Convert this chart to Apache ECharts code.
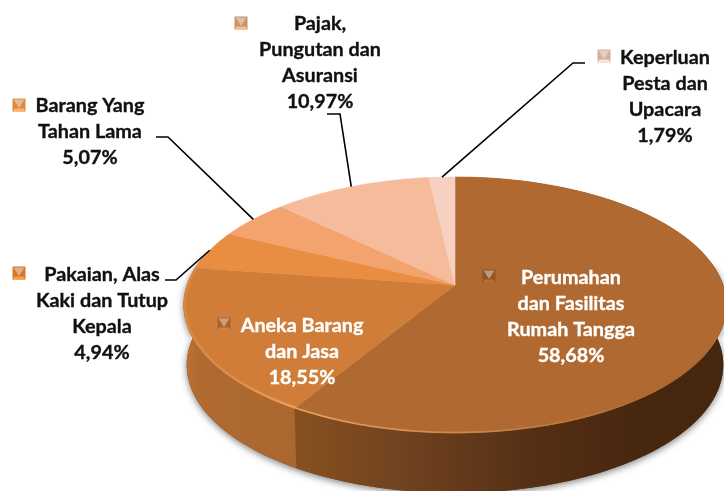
<!DOCTYPE html>
<html>
<head>
<meta charset="utf-8">
<style>
html, body { margin: 0; padding: 0; background: #fff; }
#chart { width: 724px; height: 491px; }
</style>
<script src="https://cdn.jsdelivr.net/npm/echarts@6/dist/echarts.min.js"></script>
</head>
<body>
<div id="chart"></div>
<script>
// data, clockwise from 12 o'clock
var categories = [
    ['Perumahan', 'dan Fasilitas', 'Rumah Tangga'],
    ['Aneka Barang', 'dan Jasa'],
    ['Pakaian, Alas', 'Kaki dan Tutup', 'Kepala'],
    ['Barang Yang', 'Tahan Lama'],
    ['Pajak,', 'Pungutan dan', 'Asuransi'],
    ['Keperluan', 'Pesta dan', 'Upacara']
];
var shares = [58.68, 18.55, 4.94, 5.07, 10.97, 1.79];

var sliceColors = ['#B06A31', '#CF7D39', '#E98D42', '#F3A36E', '#F6BB9B', '#F6D1C1'];
var keyColors = ['#8F5527', '#A9652D', '#D0782F', '#D98A4A', '#C9916C', '#D6AE9D'];

// text centre + first line y, legend key centre, leader elbow + leader end
var labelLayout = [
    { x: 571, y: 277, key: [489, 276], color: '#fff' },
    { x: 302, y: 325, key: [224, 324], color: '#fff' },
    { x: 102, y: 274, key: [19, 273], color: '#111', elbow: [176, 280], end: [165, 280] },
    { x: 90, y: 105, key: [19, 105], color: '#111', elbow: [168, 137], end: [156, 137] },
    { x: 320, y: 23, key: [241, 23], color: '#111', elbow: [340, 114], end: [327, 114] },
    { x: 665, y: 57, key: [604, 56], color: '#111', elbow: [573, 63], end: [585, 63] }
];

// tilted disc: a circle seen in perspective, so the centre sits above the middle
var disc = { cx: 455, cy: 305, radius: 268, squash: 128, lift: -20, k: 0.156, depth: 60, bottomRadius: 265 };

var total = shares.reduce(function (a, b) { return a + b; }, 0);

function sliceRange(i) {
    var before = 0;
    for (var n = 0; n < i; n++) before += shares[n];
    return [before / total * 360, (before + shares[i]) / total * 360];
}

function project(deg, r, radius, dy) {
    var a = deg * Math.PI / 180;
    var u = Math.sin(a) * r;
    var v = -Math.cos(a) * r;
    var w = 1 - disc.k * v;
    return [
        disc.cx + radius * u / w,
        disc.cy + (disc.squash * v + disc.lift) / w + dy
    ];
}

function arc(from, to, r, radius, dy) {
    var pts = [];
    var steps = Math.max(4, Math.ceil(Math.abs(to - from) / 1.5));
    for (var s = 0; s <= steps; s++) {
        pts.push(project(from + (to - from) * s / steps, r, radius, dy));
    }
    return pts;
}

function gradient(x, x2, stops) {
    return {
        type: 'linear', global: true, x: x, y: 0, x2: x2, y2: 0,
        colorStops: stops.map(function (c) { return { offset: c[0], color: c[1] }; })
    };
}

var wallFills = [
    gradient(298, 724, [[0, '#87501F'], [0.25, '#70421F'], [0.55, '#552F15'], [0.8, '#47270F'], [1, '#45260F']]),
    gradient(186, 298, [[0, '#B97234'], [0.1, '#B16B31'], [0.6, '#AD6830'], [1, '#A9672E']])
];

// soft shadow under the whole front of the disc
function renderShadow() {
    var top = arc(80, 285, 1, disc.radius, 0);
    var bottom = arc(285, 80, 1, disc.bottomRadius, disc.depth);
    return {
        type: 'polygon',
        shape: { points: top.concat(bottom) },
        style: {
            fill: '#6E421E',
            shadowBlur: 7,
            shadowColor: 'rgba(0,0,0,0.5)',
            shadowOffsetY: 2
        }
    };
}

function renderWall(params, api) {
    var i = api.value(0);
    var range = sliceRange(i);
    var top = arc(range[0], range[1], 1, disc.radius, 0);
    var bottom = arc(range[1], range[0], 1, disc.bottomRadius, disc.depth);
    return {
        type: 'polygon',
        shape: { points: top.concat(bottom) },
        style: { fill: wallFills[i] || sliceColors[i] }
    };
}

function renderTop(params, api) {
    var i = api.value(0);
    var range = sliceRange(i);
    var points = [project(0, 0, disc.radius, 0)].concat(arc(range[0], range[1], 1, disc.radius, 0));
    return {
        type: 'polygon',
        shape: { points: points },
        style: { fill: sliceColors[i], stroke: sliceColors[i], lineWidth: 0.6 }
    };
}

// light bevel running round the front of the disc
function renderRim(params, api) {
    var i = api.value(0);
    var range = sliceRange(i);
    if (i === 0) {
        return {
            type: 'polyline',
            shape: { points: arc(range[1], 120, 0.997, disc.radius, 0) },
            style: {
                fill: 'none', lineWidth: 1.6,
                stroke: gradient(298, 690, [[0, '#EBA064'], [0.45, '#C9854C'], [1, '#A9642C']])
            }
        };
    }
    if (i === 1) {
        return {
            type: 'polyline',
            shape: { points: arc(range[0], range[1], 0.996, disc.radius, 0) },
            style: {
                fill: 'none', lineWidth: 2.4,
                stroke: gradient(186, 298, [[0, '#DB8740'], [0.5, '#E28E46'], [1, '#EDA062']])
            }
        };
    }
    return { type: 'group', children: [] };
}

function renderKey(pos, color) {
    var x = pos[0] - 6.5, y = pos[1] - 6.5, w = 13;
    var cx = pos[0], cy = pos[1] + 3;
    var lift = echarts.color.lift;
    return [
        { type: 'rect', shape: { x: x, y: y, width: w, height: w }, style: { fill: color } },
        { type: 'polygon', shape: { points: [[x, y + w], [x + w, y + w], [x + w - 2, y + w - 3], [x + 2, y + w - 3]] }, style: { fill: lift(color, -0.3) } },
        { type: 'polygon', shape: { points: [[x + 1, y + 1], [x + w - 1, y + 1], [cx, cy]] }, style: { fill: lift(color, 0.4) } }
    ];
}

function renderLabel(params, api) {
    var i = api.value(0);
    var place = labelLayout[i];
    var range = sliceRange(i);
    var children = renderKey(place.key, keyColors[i]);
    var lines = categories[i].concat(String(shares[i]).replace('.', ',') + '%');

    if (place.elbow) {
        children.push({
            type: 'polyline',
            shape: { points: [project((range[0] + range[1]) / 2, 1, disc.radius, 0), place.elbow, place.end] },
            style: { fill: 'none', stroke: '#000', lineWidth: 1.6 }
        });
    }
    children.push({
        type: 'text',
        style: {
            x: place.x,
            y: place.y - 13,
            text: lines.join('\n'),
            fill: place.color,
            stroke: place.color,
            lineWidth: 0.35,
            font: 'bold 19.8px Lato',
            lineHeight: 26.3,
            align: 'center',
            verticalAlign: 'top'
        }
    });
    return { type: 'group', children: children };
}

var sliceIndex = shares.map(function (v, i) { return [i]; });

var chart = echarts.init(document.getElementById('chart'), null, { renderer: 'canvas' });
chart.setOption({
    backgroundColor: '#fff',
    animation: false,
    series: [
        { type: 'custom', coordinateSystem: 'none', silent: true, z: 0, data: [[0]], renderItem: renderShadow },
        { type: 'custom', coordinateSystem: 'none', silent: true, z: 1, data: sliceIndex.slice(0, 2), renderItem: renderWall },
        { type: 'custom', coordinateSystem: 'none', silent: true, z: 2, data: sliceIndex, renderItem: renderTop },
        { type: 'custom', coordinateSystem: 'none', silent: true, z: 3, data: sliceIndex, renderItem: renderRim },
        { type: 'custom', coordinateSystem: 'none', silent: true, z: 4, data: sliceIndex, renderItem: renderLabel }
    ]
});
</script>
</body>
</html>
